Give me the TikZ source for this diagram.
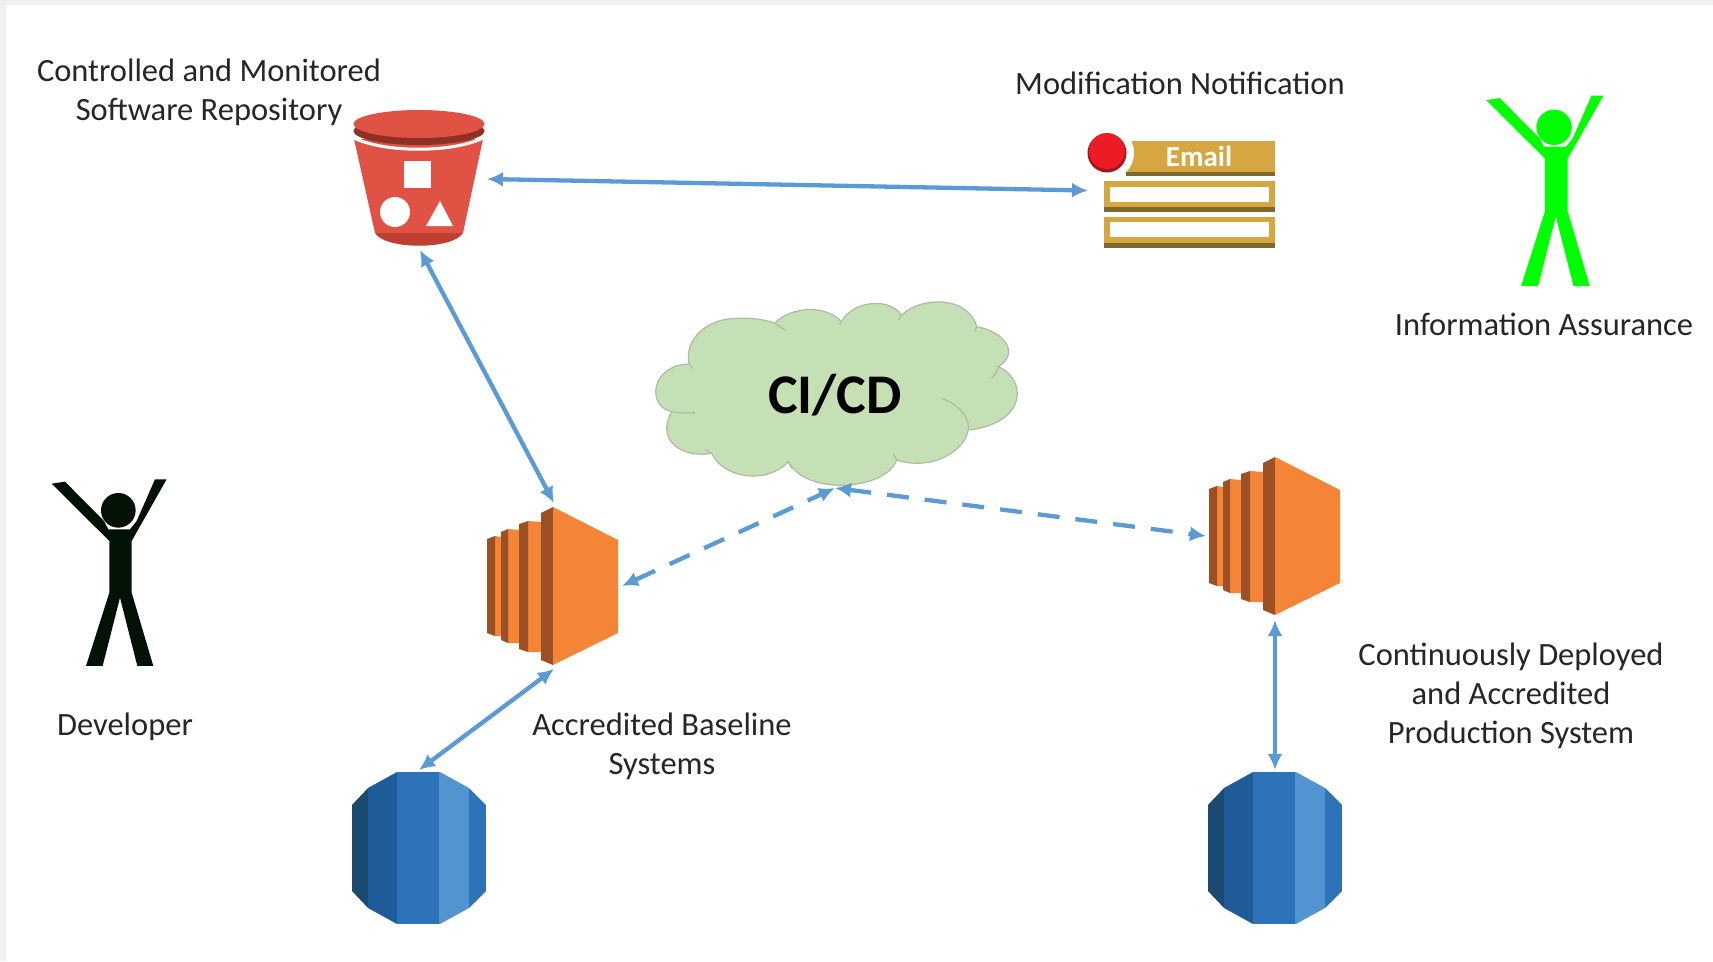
\documentclass[tikz,border=0pt]{standalone}
\usepackage{fontspec}
\setmainfont{Carlito}
\usetikzlibrary{arrows.meta}
\definecolor{linkblue}{HTML}{5B9BD5}
\definecolor{txt}{HTML}{262626}
\definecolor{bktred}{HTML}{E05243}
\definecolor{bktdark}{HTML}{8C3123}
\definecolor{bktlow}{HTML}{BE4033}
\definecolor{gold}{HTML}{D6A740}
\definecolor{golddark}{HTML}{7F682E}
\definecolor{srvor}{HTML}{F58536}
\definecolor{srvdk}{HTML}{9D5025}
\definecolor{dba}{HTML}{1A4A72}
\definecolor{dbb}{HTML}{205B99}
\definecolor{dbc}{HTML}{2E73B8}
\definecolor{dbd}{HTML}{5294CF}
\definecolor{cloudfill}{HTML}{C5E0B4}
\definecolor{cloudline}{HTML}{ADBBA6}
\definecolor{manblack}{HTML}{041206}
\definecolor{mangreen}{HTML}{00FF00}
\definecolor{dotred}{HTML}{ED1C24}
\definecolor{dotdark}{HTML}{A3161B}
\tikzset{
  iconbox/.style={inner sep=0pt,outer sep=0pt,draw=none,fill=none},
  label/.style={align=center,text=txt,inner sep=0pt,font=\fontsize{32.5}{39}\selectfont},
  link/.style={draw=linkblue,line width=4.3pt,{Latex[length=16pt,width=15pt]}-{Latex[length=16pt,width=15pt]}},
  dashlink/.style={link,dash pattern=on 22pt off 16pt},
  cloudedge/.style={draw=cloudline,line width=1.2pt}
}
\newcommand{\serverIcon}[1]{%
\begin{scope}[shift={#1}]
  \fill[srvor] (495,536) -- (501,537) -- (501,636) -- (495,636) -- cycle;
  \fill[srvdk] (487,539) -- (495,536) -- (495,636) -- (487,633) -- cycle;
  \fill[srvor] (508,529) -- (519,530) -- (519,643) -- (508,643) -- cycle;
  \fill[srvdk] (501,532) -- (508,529) -- (508,643) -- (501,640) -- cycle;
  \fill[srvor] (528,521) -- (541,522) -- (541,652) -- (528,652) -- cycle;
  \fill[srvdk] (519,524) -- (528,521) -- (528,652) -- (519,649) -- cycle;
  \fill[srvdk] (541,513) -- (553,507) -- (553,665) -- (541,660) -- cycle;
  \fill[srvor] (553,507) -- (618,540) -- (618,633) -- (553,665) -- cycle;
\end{scope}}
\newcommand{\dbIcon}[1]{%
\begin{scope}[shift={#1}]
  \begin{scope}
    \clip (397,772) -- (440,772) -- (469,788) -- (486,805) -- (486,891) -- (469,908) -- (440,924) -- (397,924) -- (368,908) -- (352,891) -- (352,805) -- (368,788) -- cycle;
    \fill[dba] (352,772) rectangle (368,924);
    \fill[dbb] (368,772) rectangle (397,924);
    \fill[dbc] (397,772) rectangle (439,924);
    \fill[dbd] (439,772) rectangle (469,924);
    \fill[dbc] (469,772) rectangle (486,924);
  \end{scope}
\end{scope}}
\newcommand{\personIcon}[3]{%
\begin{scope}[shift={#2},x=#3pt,y=-#3pt]
  \fill[#1] (65,68) -- (105,62) -- (222,180) -- (235,205) -- (300,205) -- (320,180) -- (375,55) -- (410,55) -- (305,240) -- (305,395) -- (370,615) -- (322,615) -- (270,410) -- (218,615) -- (168,615) -- (238,395) -- (238,240) -- cycle;
  \fill[#1] (265,148) circle (52);
\end{scope}}
\begin{document}
\begin{tikzpicture}[x=1pt,y=-1pt]
\useasboundingbox (0,0) rectangle (1713,961);
\fill[black!6] (0,0) rectangle (1713,961);
\fill[white] (6,5) rectangle (1713,961);
% cloud
\begin{scope}[shift={(640,290)},x=0.3333pt,y=-0.3333pt]
  \path[fill=cloudfill,cloudedge] (148,222) .. controls (130,150) and (200,85) .. (290,85) .. controls (340,83) and (380,90) .. (405,100)
   .. controls (430,65) and (540,30) .. (605,95)
   .. controls (630,40) and (740,15) .. (785,75)
   .. controls (840,20) and (985,15) .. (1010,110)
   .. controls (1095,125) and (1140,190) .. (1075,230)
   .. controls (1160,265) and (1165,400) .. (985,420)
   .. controls (975,480) and (880,545) .. (770,510)
   .. controls (740,600) and (500,620) .. (445,515)
   .. controls (380,585) and (250,565) .. (215,490)
   .. controls (130,505) and (45,455) .. (95,365)
   .. controls (20,350) and (30,225) .. (148,222) -- cycle;
  \path[cloudedge] (905,325) .. controls (960,345) and (990,385) .. (985,420);
  \path[cloudedge] (1075,230) .. controls (1072,245) and (1065,255) .. (1055,265);
  \path[cloudedge] (95,365) .. controls (120,370) and (145,370) .. (165,368);
  \path[cloudedge] (148,222) -- (158,235);
  \path[cloudedge] (405,100) -- (435,120);
  \path[cloudedge] (605,95) -- (600,102);
  \path[cloudedge] (785,75) -- (775,90);
  \path[cloudedge] (1010,110) -- (1005,125);
  \path[cloudedge] (215,490) -- (195,478);
  \path[cloudedge] (445,515) -- (455,535);
  \path[cloudedge] (770,510) -- (760,490);
\end{scope}
\node[iconbox,minimum width=370pt,minimum height=186pt,font=\fontsize{56}{60}\selectfont\bfseries,text=black] (cloud) at (835,395) {CI/CD};
% bucket
\fill[bktred] (354,139) -- (483,139) -- (463,233) -- (375,233) -- cycle;
\fill[bktlow] (375,233) .. controls (385,250) and (453,250) .. (463,233) -- cycle;
\fill[bktdark] (419,131) ellipse (65.5 and 14);
\fill[bktred] (419,124) ellipse (65.5 and 14);
\draw[white,line width=3pt] (354,138) .. controls (385,153) and (452,153) .. (483,138);
\fill[white] (404,161) rectangle (431,188);
\fill[white] (395,212) circle (15);
\fill[white] (440,201) -- (426,226) -- (453,226) -- cycle;
\node[iconbox,minimum width=134pt,minimum height=142pt] (bucket) at (420,179) {};
% email
\fill[gold] (1126,141) rectangle (1275,172);
\fill[golddark] (1126,172) rectangle (1275,176);
\fill[white] (1107,153) circle (27);
\fill[gold] (1104,181) rectangle (1275,207);
\fill[golddark] (1104,207) rectangle (1275,212);
\fill[white] (1110,187) rectangle (1269,202);
\fill[gold] (1104,217) rectangle (1275,243);
\fill[golddark] (1104,243) rectangle (1275,248);
\fill[white] (1110,222) rectangle (1269,237);
\fill[dotdark] (1107,153) circle (19.5);
\fill[dotred] (1107,151) circle (18);
\node[inner sep=0pt,font=\fontsize{29}{30}\selectfont\bfseries,text=white] (emaillabel) at (1199,156) {Email};
\node[iconbox,minimum width=187pt,minimum height=115pt] (email) at (1181.5,190.5) {};
% servers
\serverIcon{(0,0)}
\node[iconbox,minimum width=136pt,minimum height=166pt] (srvA) at (554,586) {};
\serverIcon{(722,-50)}
\node[iconbox,minimum width=138pt,minimum height=168pt] (srvB) at (1275,536) {};
% databases
\dbIcon{(0,0)}
\node[iconbox,minimum width=134pt,minimum height=156pt] (dbA) at (419,848) {};
\dbIcon{(856,0)}
\node[iconbox,minimum width=134pt,minimum height=156pt] (dbB) at (1275,848) {};
% people
\personIcon{manblack}{(30,461)}{0.3333}
\personIcon{mangreen}{(1464,77)}{0.34}
% connectors
\draw[link] (bucket.east) -- (email.west);
\draw[link] (bucket.south) -- (srvA.north);
\draw[link] (srvA.south) -- (dbA.north);
\draw[link] (srvB.south) -- (dbB.north);
\draw[dashlink] (srvA.east) -- (cloud.south);
\draw[dashlink] (cloud.south) -- (srvB.west);
% labels
\node[label] (lblrepo) at (209,92) {Controlled and Monitored\\Software Repository};
\node[label] (lblmod) at (1180,83) {Modification Notification};
\node[label] (lblia) at (1544,324) {Information Assurance};
\node[label] (lbldev) at (125,727) {Developer};
\node[label] (lblbase) at (662,746) {Accredited Baseline\\Systems};
\node[label] (lblprod) at (1511,696) {Continuously Deployed\\and Accredited\\Production System};
\end{tikzpicture}
\end{document}
